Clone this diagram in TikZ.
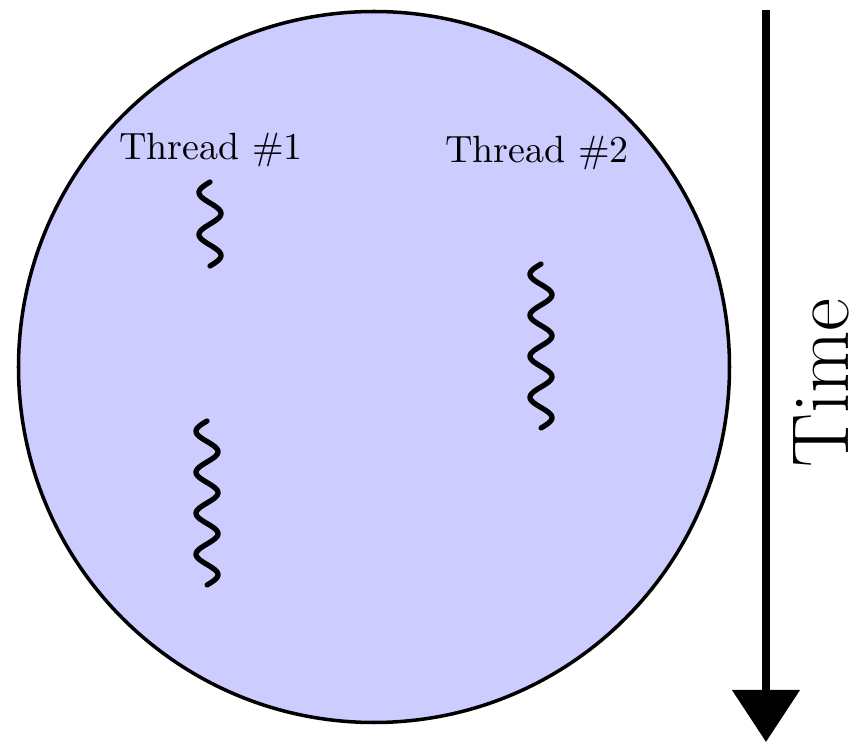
\documentclass[tikz,border=0pt]{standalone}
\usepackage{tikz}
\usetikzlibrary{arrows.meta}
\definecolor{procfill}{RGB}{204,204,255}
\tikzset{
  wiggle/.style={line width=1.5pt,line cap=round},
  threadlabel/.style={font=\fontsize{10.8}{13}\selectfont}
}
\begin{document}
\begin{tikzpicture}
\useasboundingbox (0,0) rectangle (8.62,7.44);
\draw[line width=1pt,fill=procfill](3.74,3.77)circle(3.555);
\node[threadlabel] (t1) at (2.11,5.94){Thread \#1};
\node[threadlabel] (t2) at (5.37,5.91){Thread \#2};
\draw[wiggle] plot[domain=0:2,samples=80,smooth]({2.10-0.11*sin(360*\x)},{5.62-0.42*\x});
\draw[wiggle] plot[domain=0:4,samples=160,smooth]({2.07-0.11*sin(360*\x)},{3.23-0.41*\x});
\draw[wiggle] plot[domain=0:4,samples=160,smooth]({5.41-0.11*sin(360*\x)},{4.80-0.41*\x});
\coordinate (top) at (7.66,7.34);
\coordinate (bot) at (7.66,0.02);
\draw[line width=2.3pt,-{Triangle[width=0.66cm,length=0.52cm]}](top)--(bot);
\node[rotate=90,font=\fontsize{23}{27}\selectfont] (time) at (8.21,3.61){Time};
\end{tikzpicture}
\end{document}
